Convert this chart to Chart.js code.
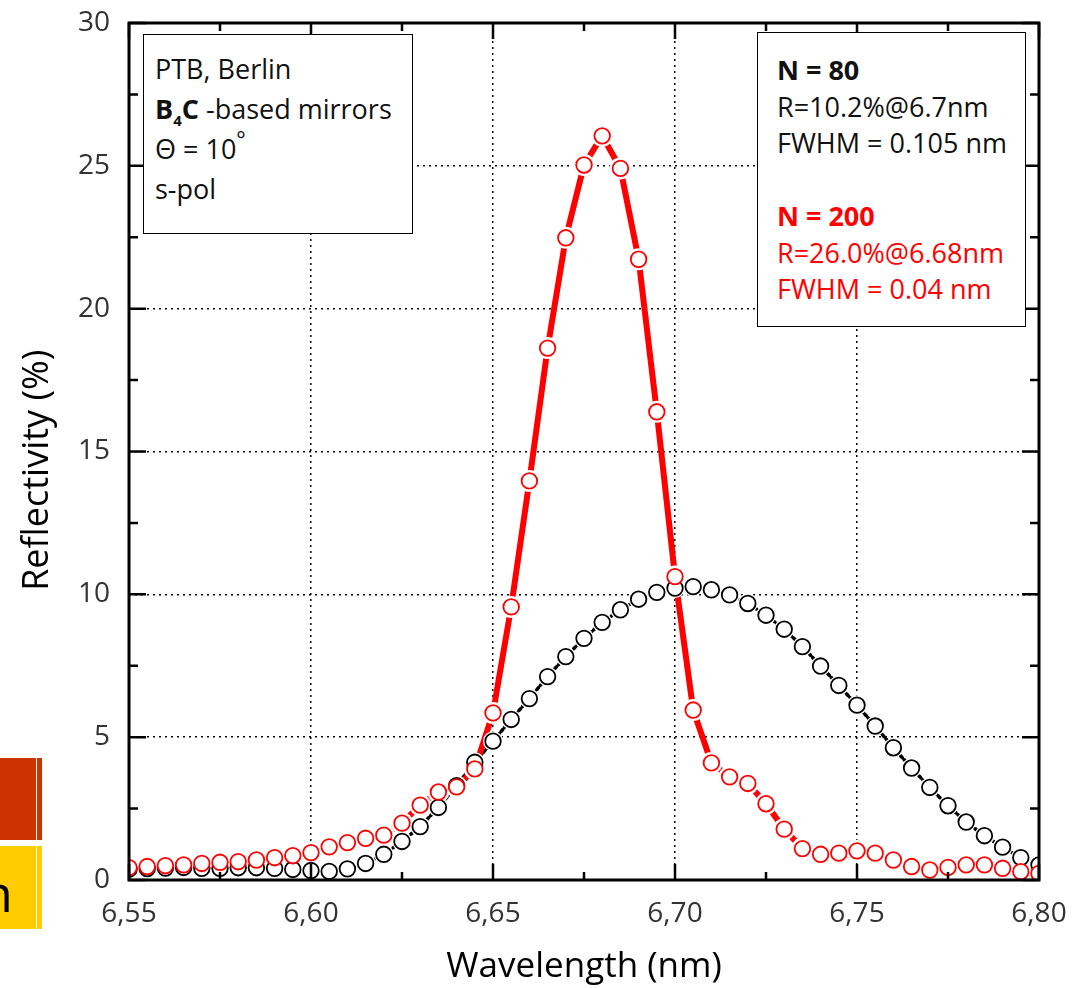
<!DOCTYPE html>
<html>
<head>
<meta charset="utf-8">
<script src="https://cdn.jsdelivr.net/npm/chart.js@4/dist/chart.umd.min.js"></script>
<style>
  body { margin: 0; background: #fff; }
  #wrap { position: relative; width: 1088px; height: 988px; overflow: hidden; font-family: "Open Sans", sans-serif; }
  #chart { position: absolute; left: 0; top: 0; }
  .box { position: absolute; background: #fff; border: 1.5px solid #000; box-sizing: border-box; font-size: 27px; color: #111; }
  .box div { white-space: nowrap; position: relative; }
  .box sub, .box sup { line-height: 0; }
  .red { color: #ff0000; }
  .slide { position: absolute; left: 0; width: 42px; overflow: hidden; }
  .slide .cut { position: absolute; left: 36px; top: 0; bottom: 0; width: 1px; background: #fff; }
</style>
</head>
<body>
<div id="wrap">
  <canvas id="chart" width="1088" height="988"></canvas>

  <!-- bits of the slide behind the plot, left edge -->
  <div class="slide" style="top:758px;height:82px;background:#cc3300;"><div class="cut"></div></div>
  <div class="slide" style="top:846px;height:83px;background:#ffcc00;">
    <span style="position:absolute;left:-19px;top:20px;font-size:52px;line-height:1;color:#000;">n</span>
    <div class="cut"></div>
  </div>

  <div class="box" style="left:143px;top:34px;width:270px;height:200px;padding:14px 0 0 11px;">
    <div style="height:40px;line-height:40px;">PTB, Berlin</div>
    <div style="height:40px;line-height:40px;"><b>B<sub style="font-size:15px;vertical-align:-7px;">4</sub>C</b> -based mirrors</div>
    <div style="height:40px;line-height:40px;">&Theta; = 10<sup style="font-size:22px;vertical-align:12px;">&deg;</sup></div>
    <div style="height:40px;line-height:40px;">s-pol</div>
  </div>

  <div class="box" style="left:757px;top:32px;width:269px;height:295px;padding:19px 0 0 19px;line-height:36.5px;">
    <div><b>N = 80</b></div>
    <div>R=10.2%@6.7nm</div>
    <div>FWHM = 0.105 nm</div>
    <div>&nbsp;</div>
    <div class="red"><b>N = 200</b></div>
    <div class="red">R=26.0%@6.68nm</div>
    <div class="red">FWHM = 0.04 nm</div>
  </div>
</div>

<script>
// wavelength (nm), one point every 0.005 nm
var wavelength = [
  6.550, 6.555, 6.560, 6.565, 6.570, 6.575, 6.580, 6.585, 6.590, 6.595,
  6.600, 6.605, 6.610, 6.615, 6.620, 6.625, 6.630, 6.635, 6.640, 6.645,
  6.650, 6.655, 6.660, 6.665, 6.670, 6.675, 6.680, 6.685, 6.690, 6.695,
  6.700, 6.705, 6.710, 6.715, 6.720, 6.725, 6.730, 6.735, 6.740, 6.745,
  6.750, 6.755, 6.760, 6.765, 6.770, 6.775, 6.780, 6.785, 6.790, 6.795,
  6.800
];

// reflectivity (%) N = 80
var reflN80 = [
  0.38, 0.40, 0.42, 0.44, 0.41, 0.41, 0.43, 0.43, 0.41, 0.37,
  0.33, 0.30, 0.39, 0.58, 0.90, 1.35, 1.87, 2.54, 3.30, 4.12,
  4.86, 5.62, 6.35, 7.12, 7.82, 8.46, 9.02, 9.46, 9.83, 10.07,
  10.22, 10.27, 10.16, 9.98, 9.68, 9.27, 8.78, 8.17, 7.49, 6.81,
  6.12, 5.39, 4.63, 3.92, 3.24, 2.60, 2.03, 1.55, 1.15, 0.78,
  0.53
];

// reflectivity (%) N = 200
var reflN200 = [
  0.43, 0.47, 0.50, 0.53, 0.58, 0.62, 0.64, 0.70, 0.78, 0.85,
  0.96, 1.16, 1.31, 1.46, 1.57, 1.99, 2.62, 3.08, 3.26, 3.89,
  5.85, 9.56, 13.97, 18.62, 22.48, 25.03, 26.05, 24.91, 21.73, 16.39,
  10.62, 5.95, 4.10, 3.61, 3.38, 2.67, 1.78, 1.10, 0.90, 0.94,
  1.02, 0.94, 0.70, 0.47, 0.35, 0.44, 0.53, 0.53, 0.41, 0.29,
  0.23
];

var xTicks = { min: 6.55, max: 6.80, step: 0.05 };
var yTicks = { min: 0, max: 30, step: 5 };

function pts(ys) {
  var out = [];
  for (var i = 0; i < wavelength.length; i++) {
    out.push({ x: wavelength[i], y: ys[i] });
  }
  return out;
}

var black = '#000000';
var red = '#ff0000';

// line, white "gap" disc, then the open symbol on top (Origin style)
function lineSet(ys, color, width, dash, order) {
  return { data: pts(ys), borderColor: color, borderWidth: width, borderDash: dash,
           borderCapStyle: 'round', pointRadius: 0, tension: 0, fill: false, clip: 0, order: order };
}
function gapSet(ys, r, order) {
  return { data: pts(ys), showLine: false, pointRadius: r, pointBorderWidth: 0,
           pointBackgroundColor: '#ffffff', pointBorderColor: '#ffffff', clip: 0, order: order };
}
function markSet(ys, color, order) {
  return { data: pts(ys), showLine: false, pointRadius: 7.8, pointBorderWidth: 1.8,
           pointBorderColor: color, pointBackgroundColor: '#ffffff', clip: 0, order: order };
}

var datasets = [
  markSet(reflN200, red, 0),
  markSet(reflN80, black, 1),
  gapSet(reflN200, 11, 2),
  gapSet(reflN80, 10, 3),
  lineSet(reflN200, red, 6, [], 4),
  lineSet(reflN80, black, 3.5, [2.5, 3], 5)
];

// frame + inward major/minor ticks on all four sides
var framePlugin = {
  id: 'frame',
  afterDraw: function(chart) {
    var ctx = chart.ctx;
    var a = chart.chartArea;
    var xs = chart.scales.x, ys = chart.scales.y;
    ctx.save();
    ctx.strokeStyle = '#000';
    ctx.lineWidth = 2.5;
    var i, v, p, len;
    var nx = Math.round((xTicks.max - xTicks.min) / (xTicks.step / 2));
    for (i = 0; i <= nx; i++) {
      v = xTicks.min + i * xTicks.step / 2;
      p = xs.getPixelForValue(v);
      len = (i % 2 === 0) ? 16 : 8;
      ctx.beginPath();
      ctx.moveTo(p, a.bottom); ctx.lineTo(p, a.bottom - len);
      ctx.moveTo(p, a.top); ctx.lineTo(p, a.top + len);
      ctx.stroke();
    }
    var ny = Math.round((yTicks.max - yTicks.min) / (yTicks.step / 2));
    for (i = 0; i <= ny; i++) {
      v = yTicks.min + i * yTicks.step / 2;
      p = ys.getPixelForValue(v);
      len = (i % 2 === 0) ? 17 : 9;
      ctx.beginPath();
      ctx.moveTo(a.left, p); ctx.lineTo(a.left + len, p);
      ctx.moveTo(a.right, p); ctx.lineTo(a.right - len, p);
      ctx.stroke();
    }
    ctx.lineWidth = 3;
    ctx.strokeRect(a.left, a.top, a.right - a.left, a.bottom - a.top);
    ctx.restore();
  }
};

var ctx = document.getElementById('chart').getContext('2d');
var chart = new Chart(ctx, {
  type: 'line',
  data: { datasets: datasets },
  plugins: [framePlugin],
  options: {
    responsive: false,
    animation: false,
    layout: { padding: { top: 23, right: 49, left: 0, bottom: 0 } },
    plugins: { legend: { display: false }, tooltip: { enabled: false } },
    scales: {
      x: {
        type: 'linear',
        min: xTicks.min,
        max: xTicks.max,
        afterFit: function(scale) { scale.height = 108; },
        ticks: {
          stepSize: xTicks.step,
          padding: 17,
          color: '#333',
          font: { family: 'Open Sans', size: 28 },
          callback: function(v) { return Number(v).toFixed(2).replace('.', ','); }
        },
        grid: { color: '#000', lineWidth: 1.5, drawTicks: false },
        border: { display: false, dash: [2, 4] },
        title: {
          display: true,
          text: 'Wavelength (nm)',
          color: '#000',
          font: { family: 'Open Sans', size: 35, weight: '500' },
          padding: { top: 0, bottom: 0 }
        }
      },
      y: {
        min: yTicks.min,
        max: yTicks.max,
        afterFit: function(scale) {
          scale.width = 129;
          // let layout padding alone decide where the frame top sits
          scale.paddingTop = 0;
          scale.paddingBottom = 0;
        },
        ticks: {
          stepSize: yTicks.step,
          padding: 19,
          color: '#333',
          font: { family: 'Open Sans', size: 28 }
        },
        grid: { color: '#000', lineWidth: 1.5, drawTicks: false },
        border: { display: false, dash: [2, 4] },
        title: {
          display: true,
          // trailing spaces push the label a little down, as in the original
          text: 'Reflectivity (%)\u00a0\u00a0\u00a0\u00a0',
          color: '#000',
          font: { family: 'Open Sans', size: 36, weight: '500' },
          padding: { top: 16, bottom: 0 }
        }
      }
    }
  }
});
</script>
</body>
</html>
